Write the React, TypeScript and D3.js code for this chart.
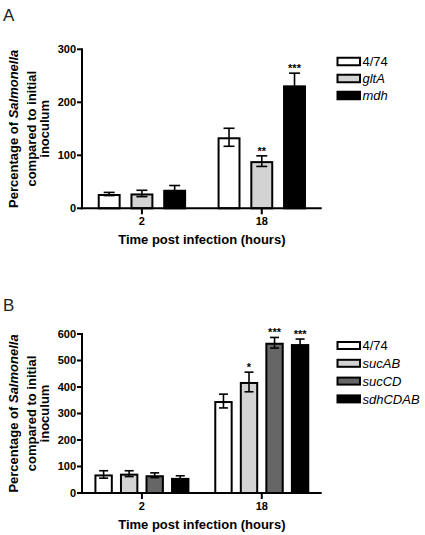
import React from 'react';
import * as d3 from 'd3';

// ---------- data ----------
const groups = ['2', '18'];

const seriesA = ['4/74', 'gltA', 'mdh'];
const italicA = [false, true, true];
const meanA = [
  [27, 28, 35],
  [134, 89, 232],
];
const errA = [
  [3, 6, 8],
  [17, 10, 23],
];
const starsA = [
  ['', '', ''],
  ['', '**', '***'],
];
const colorsA = ['#ffffff', '#d3d3d3', '#000000'];
const ticksA = [0, 100, 200, 300];

const seriesB = ['4/74', 'sucAB', 'sucCD', 'sdhCDAB'];
const italicB = [false, true, true, true];
const meanB = [
  [70, 73, 67, 57],
  [347, 419, 567, 562],
];
const errB = [
  [14, 11, 9, 8],
  [26, 37, 20, 19],
];
const starsB = [
  ['', '', '', ''],
  ['', '*', '***', '***'],
];
const colorsB = ['#ffffff', '#d3d3d3', '#666666', '#000000'];
const ticksB = [0, 100, 200, 300, 400, 500, 600];

const FONT = 'Arial, "Liberation Sans", Helvetica, sans-serif';

type PanelProps = {
  letter: string;
  letterY: number;
  series: string[];
  italic: boolean[];
  means: number[][];
  errs: number[][];
  stars: string[][];
  colors: string[];
  ticks: number[];
  y0: number;
  y1: number;
  span: number;
  padInner: number;
  capW: number;
  legendTop: number;
  legendStep: number;
  legendBoxH: number;
};

function Panel(p: PanelProps) {
  const xLeft = 82;
  const xRight = 321.7;
  const maxV = p.ticks[p.ticks.length - 1];
  const y = d3.scaleLinear().domain([0, maxV]).range([p.y0, p.y1]);
  const gx = d3.scalePoint<string>().domain(groups).range([xLeft, xRight]).padding(0.5);
  const cy = (p.y0 + p.y1) / 2;

  return (
    <g>
      <text x={3} y={p.letterY} fontFamily={FONT} fontSize={17} fill="#222">
        {p.letter}
      </text>

      {/* bars */}
      {groups.map((g, gi) => {
        const c = gx(g) as number;
        const inner = d3
          .scaleBand<string>()
          .domain(p.series)
          .range([c - p.span / 2, c + p.span / 2])
          .paddingInner(p.padInner)
          .paddingOuter(0);
        const bw = inner.bandwidth();
        return (
          <g key={g}>
            {p.series.map((s, si) => {
              const m = p.means[gi][si];
              const e = p.errs[gi][si];
              const bx = inner(s) as number;
              const mx = bx + bw / 2;
              const st = p.stars[gi][si];
              return (
                <g key={s}>
                  <rect
                    x={bx + 1}
                    y={y(m) + 1}
                    width={bw - 2}
                    height={y(0) - y(m) - 1}
                    fill={p.colors[si]}
                    stroke="#000"
                    strokeWidth={2}
                  />
                  <line x1={mx} x2={mx} y1={y(m - e)} y2={y(m + e)} stroke="#000" strokeWidth={1.6} />
                  <line x1={mx - p.capW / 2} x2={mx + p.capW / 2} y1={y(m + e)} y2={y(m + e)} stroke="#000" strokeWidth={1.6} />
                  <line x1={mx - p.capW / 2} x2={mx + p.capW / 2} y1={y(m - e)} y2={y(m - e)} stroke="#000" strokeWidth={1.6} />
                  {st && (
                    <text
                      x={mx}
                      y={y(m + e) - 1}
                      textAnchor="middle"
                      fontFamily={FONT}
                      fontWeight="bold"
                      fontSize={11}
                      fill="#000"
                    >
                      {st}
                    </text>
                  )}
                </g>
              );
            })}
          </g>
        );
      })}

      {/* y axis */}
      <line x1={xLeft} x2={xLeft} y1={y(maxV) - 1} y2={y(0) + 1} stroke="#000" strokeWidth={2} />
      {p.ticks.map((t) => (
        <g key={t}>
          <line x1={xLeft - 5} x2={xLeft} y1={y(t)} y2={y(t)} stroke="#000" strokeWidth={2} />
          <text
            x={xLeft - 6}
            y={y(t)}
            dy="0.36em"
            textAnchor="end"
            fontFamily={FONT}
            fontWeight="bold"
            fontSize={11}
            fill="#000"
          >
            {t}
          </text>
        </g>
      ))}

      {/* x axis */}
      <line x1={xLeft - 1} x2={xRight} y1={y(0)} y2={y(0)} stroke="#000" strokeWidth={2} />
      {groups.map((g) => (
        <g key={g}>
          <line x1={gx(g)} x2={gx(g)} y1={y(0)} y2={y(0) + 6} stroke="#000" strokeWidth={2} />
          <text
            x={gx(g)}
            y={y(0) + 17}
            textAnchor="middle"
            fontFamily={FONT}
            fontWeight="bold"
            fontSize={11}
            fill="#000"
          >
            {g}
          </text>
        </g>
      ))}
      <text
        x={(xLeft + xRight) / 2}
        y={y(0) + 36}
        textAnchor="middle"
        fontFamily={FONT}
        fontWeight="bold"
        fontSize={13}
        fill="#000"
      >
        Time post infection (hours)
      </text>

      {/* y label */}
      <g fontFamily={FONT} fontWeight="bold" fontSize={13} fill="#000" textAnchor="middle">
        <text transform={`translate(18,${cy}) rotate(-90)`}>
          Percentage of <tspan fontStyle="italic">Salmonella</tspan>
        </text>
        <text transform={`translate(35.5,${cy}) rotate(-90)`}>compared to initial</text>
        <text transform={`translate(49,${cy}) rotate(-90)`}>inoculum</text>
      </g>

      {/* legend */}
      {p.series.map((s, si) => {
        const ly = p.legendTop + si * p.legendStep;
        return (
          <g key={s}>
            <rect x={337.5} y={ly - p.legendBoxH / 2} width={22.5} height={p.legendBoxH} fill={p.colors[si]} stroke="#000" strokeWidth={2} />
            <text
              x={362.5}
              y={ly}
              dy="0.36em"
              fontFamily={FONT}
              fontSize={13}
              fontStyle={p.italic[si] ? 'italic' : 'normal'}
              fill="#000"
            >
              {s}
            </text>
          </g>
        );
      })}
    </g>
  );
}

export default function App() {
  return (
    <svg
      width={425}
      height={535}
      style={{ position: 'absolute', left: 0, top: 0, background: '#fff' }}
    >
      <rect width={425} height={535} fill="#fff" />
      <Panel
        letter="A"
        letterY={21}
        series={seriesA}
        italic={italicA}
        means={meanA}
        errs={errA}
        stars={starsA}
        colors={colorsA}
        ticks={ticksA}
        y0={208.3}
        y1={49.3}
        span={88.4}
        padInner={0.3}
        capW={11}
        legendTop={61.5}
        legendStep={17}
        legendBoxH={7.5}
      />
      <Panel
        letter="B"
        letterY={311}
        series={seriesB}
        italic={italicB}
        means={meanB}
        errs={errB}
        stars={starsB}
        colors={colorsB}
        ticks={ticksB}
        y0={493}
        y1={334}
        span={95}
        padInner={0.28}
        capW={9}
        legendTop={345.5}
        legendStep={17.8}
        legendBoxH={7}
      />
    </svg>
  );
}
